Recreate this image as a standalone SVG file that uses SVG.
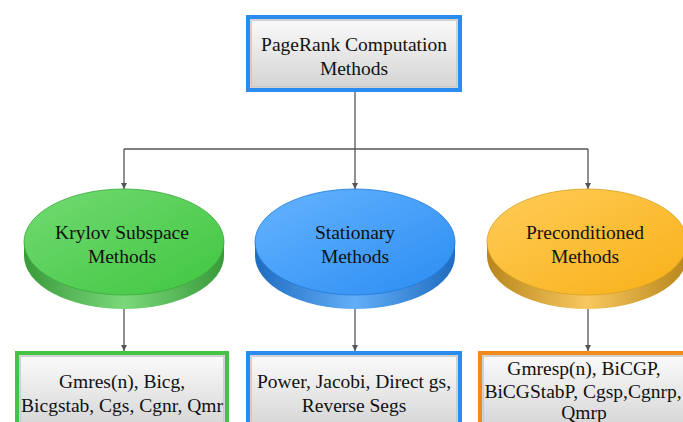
<svg xmlns="http://www.w3.org/2000/svg" width="683" height="422" viewBox="0 0 683 422">
<defs>
<linearGradient id="gbox" x1="0" y1="0" x2="0" y2="1"><stop offset="0" stop-color="#fafafa"/><stop offset="1" stop-color="#d4d4d4"/></linearGradient>
<linearGradient id="gGreenTop" x1="0" y1="0" x2="1" y2="1"><stop offset="0" stop-color="#72da72"/><stop offset="1" stop-color="#40c640"/></linearGradient>
<linearGradient id="gGreenSide" x1="0" y1="0" x2="1" y2="0"><stop offset="0" stop-color="#3a9a3a"/><stop offset="0.5" stop-color="#7ad87a"/><stop offset="1" stop-color="#3a9a3a"/></linearGradient>
<linearGradient id="gBlueTop" x1="0" y1="0" x2="1" y2="1"><stop offset="0" stop-color="#66b4ff"/><stop offset="1" stop-color="#2a8cf2"/></linearGradient>
<linearGradient id="gBlueSide" x1="0" y1="0" x2="1" y2="0"><stop offset="0" stop-color="#1f6cc0"/><stop offset="0.5" stop-color="#62aef8"/><stop offset="1" stop-color="#1f6cc0"/></linearGradient>
<linearGradient id="gOrTop" x1="0" y1="0" x2="1" y2="1"><stop offset="0" stop-color="#ffcc58"/><stop offset="1" stop-color="#f8b018"/></linearGradient>
<linearGradient id="gOrSide" x1="0" y1="0" x2="1" y2="0"><stop offset="0" stop-color="#b8861a"/><stop offset="0.5" stop-color="#f8c860"/><stop offset="1" stop-color="#b8861a"/></linearGradient>
<marker id="arr" viewBox="0 0 10 10" refX="10" refY="5" markerWidth="6" markerHeight="6" orient="auto" markerUnits="userSpaceOnUse"><path d="M0,0 L10,5 L0,10 Z" fill="#555"/></marker>
</defs>
<style>
.t{font-family:"Liberation Serif","Times New Roman",serif;font-size:19.5px;fill:#111;text-anchor:middle}
.inner{fill:url(#gbox);stroke:#c4c4c4;stroke-width:1.5}
.ln{fill:none;stroke:#555;stroke-width:1.3}
</style>
<g id="connectors">
<path class="ln" d="M355,92 V149"/>
<path class="ln" d="M124,149 H588"/>
<path class="ln" d="M124,149 V189" marker-end="url(#arr)"/>
<path class="ln" d="M355,149 V189" marker-end="url(#arr)"/>
<path class="ln" d="M588,149 V189" marker-end="url(#arr)"/>
<path class="ln" d="M124,309 V351" marker-end="url(#arr)"/>
<path class="ln" d="M355,309 V351" marker-end="url(#arr)"/>
<path class="ln" d="M588,309 V351" marker-end="url(#arr)"/>
</g>
<g id="root">
<rect x="248" y="17" width="212" height="73" fill="none" stroke="#2a8cf0" stroke-width="4"/>
<rect class="inner" x="251" y="20" width="206" height="67"/>
<text class="t" x="354" y="51">PageRank Computation</text>
<text class="t" x="354" y="75">Methods</text>
</g>
<g id="krylov">
<path d="M24,242 V256 A100,53 0 0 0 224,256 V242 Z" fill="url(#gGreenSide)"/>
<ellipse cx="124" cy="242" rx="100" ry="53" fill="url(#gGreenTop)" stroke="#3aa83a" stroke-width="0.8"/>
<text class="t" x="122" y="239">Krylov Subspace</text>
<text class="t" x="122" y="263">Methods</text>
</g>
<g id="stationary">
<path d="M255,242 V256 A100,53 0 0 0 455,256 V242 Z" fill="url(#gBlueSide)"/>
<ellipse cx="355" cy="242" rx="100" ry="53" fill="url(#gBlueTop)" stroke="#1f78d8" stroke-width="0.8"/>
<text class="t" x="355" y="239">Stationary</text>
<text class="t" x="355" y="263">Methods</text>
</g>
<g id="preconditioned">
<path d="M487,242 V256 A100,53 0 0 0 687,256 V242 Z" fill="url(#gOrSide)"/>
<ellipse cx="587" cy="242" rx="100" ry="53" fill="url(#gOrTop)" stroke="#d8a020" stroke-width="0.8"/>
<text class="t" x="585" y="239">Preconditioned</text>
<text class="t" x="585" y="263">Methods</text>
</g>
<g id="krylov-list">
<rect x="17" y="353" width="210" height="80" fill="none" stroke="#44c444" stroke-width="4"/>
<rect class="inner" x="20" y="356" width="204" height="74"/>
<text class="t" x="122" y="388">Gmres(n), Bicg,</text>
<text class="t" x="122" y="412">Bicgstab, Cgs, Cgnr, Qmr</text>
</g>
<g id="stationary-list">
<rect x="248" y="353" width="212" height="80" fill="none" stroke="#2a8cf0" stroke-width="4"/>
<rect class="inner" x="251" y="356" width="206" height="74"/>
<text class="t" x="354" y="388">Power, Jacobi, Direct gs,</text>
<text class="t" x="354" y="412">Reverse Segs</text>
</g>
<g id="preconditioned-list">
<rect x="480" y="353" width="212" height="80" fill="none" stroke="#f08a1c" stroke-width="4"/>
<rect class="inner" x="483" y="356" width="206" height="74"/>
<text class="t" x="584" y="375">Gmresp(n), BiCGP,</text>
<text class="t" x="583" y="398">BiCGStabP, Cgsp,Cgnrp,</text>
<text class="t" x="584" y="419">Qmrp</text>
</g>
</svg>
